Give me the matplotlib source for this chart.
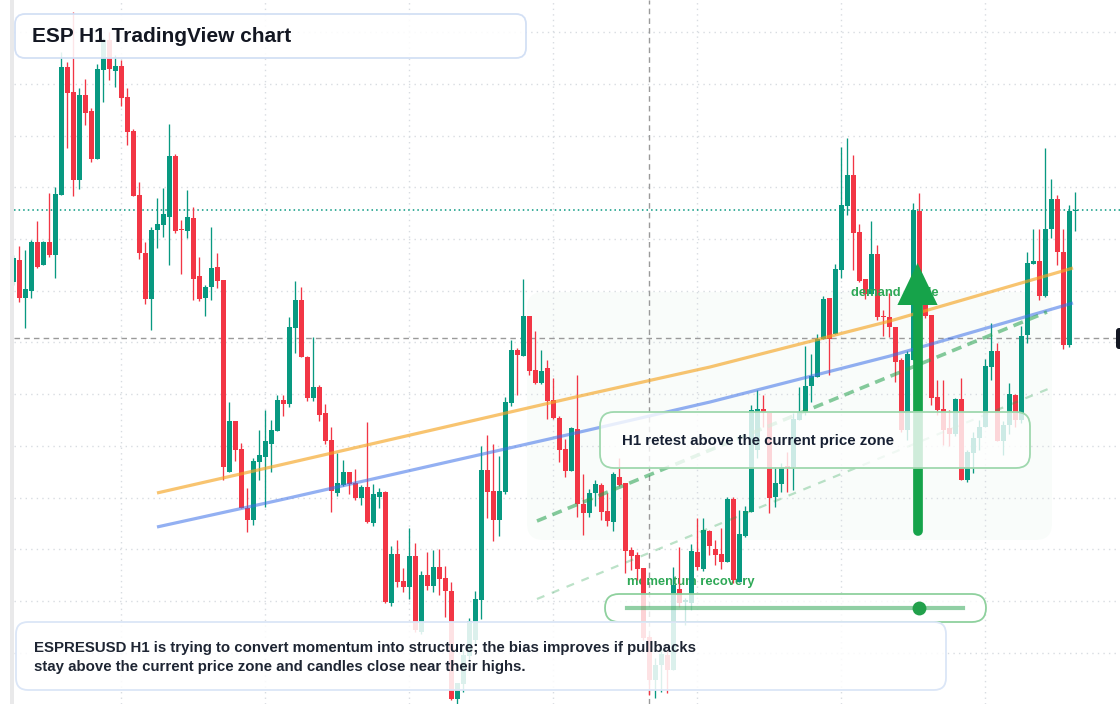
import numpy as np
import matplotlib.pyplot as plt
from matplotlib.patches import FancyBboxPatch, Polygon, Rectangle

plt.rcParams['font.family'] = ['Liberation Sans', 'DejaVu Sans']

# ESP H1 candles, oldest first
opens = [0.618, 0.640, 0.602, 0.609, 0.658, 0.635, 0.658, 0.645, 0.705, 0.833,
         0.808, 0.720, 0.805, 0.789, 0.741, 0.830, 0.860, 0.829, 0.834, 0.803,
         0.769, 0.705, 0.647, 0.601, 0.670, 0.675, 0.683, 0.744, 0.671, 0.669,
         0.682, 0.624, 0.602, 0.613, 0.633, 0.620, 0.428, 0.479, 0.451, 0.392,
         0.380, 0.438, 0.443, 0.456, 0.469, 0.500, 0.496, 0.572, 0.600, 0.543,
         0.502, 0.513, 0.487, 0.460, 0.407, 0.415, 0.428, 0.417, 0.402, 0.413,
         0.377, 0.403, 0.408, 0.297, 0.346, 0.319, 0.313, 0.344, 0.268, 0.325,
         0.314, 0.333, 0.322, 0.309, 0.201, 0.216, 0.244, 0.260, 0.300, 0.430,
         0.409, 0.380, 0.408, 0.497, 0.550, 0.544, 0.584, 0.530, 0.517, 0.532,
         0.500, 0.482, 0.451, 0.429, 0.471, 0.396, 0.387, 0.407, 0.415, 0.389,
         0.378, 0.423, 0.417, 0.350, 0.345, 0.332, 0.263, 0.220, 0.235, 0.245,
         0.230, 0.311, 0.298, 0.297, 0.348, 0.331, 0.369, 0.351, 0.346, 0.338,
         0.401, 0.318, 0.364, 0.388, 0.450, 0.491, 0.487, 0.403, 0.416, 0.434,
         0.433, 0.480, 0.488, 0.514, 0.523, 0.561, 0.602, 0.566, 0.630, 0.694,
         0.725, 0.668, 0.621, 0.606, 0.646, 0.584, 0.583, 0.573, 0.540, 0.470,
         0.540, 0.689, 0.595, 0.585, 0.503, 0.491, 0.472, 0.466, 0.501, 0.420,
         0.447, 0.462, 0.473, 0.533, 0.549, 0.459, 0.475, 0.505, 0.480, 0.565,
         0.636, 0.639, 0.604, 0.671, 0.701, 0.648, 0.555, 0.689]
highs = [0.645, 0.654, 0.650, 0.660, 0.679, 0.659, 0.707, 0.713, 0.848, 0.838,
         0.888, 0.812, 0.821, 0.792, 0.836, 0.862, 0.868, 0.845, 0.840, 0.812,
         0.771, 0.718, 0.658, 0.673, 0.702, 0.712, 0.776, 0.746, 0.680, 0.710,
         0.693, 0.643, 0.615, 0.673, 0.647, 0.620, 0.498, 0.479, 0.457, 0.412,
         0.442, 0.470, 0.490, 0.480, 0.505, 0.505, 0.583, 0.619, 0.613, 0.544,
         0.563, 0.515, 0.496, 0.473, 0.447, 0.440, 0.428, 0.431, 0.415, 0.478,
         0.416, 0.412, 0.409, 0.354, 0.360, 0.332, 0.372, 0.357, 0.329, 0.348,
         0.350, 0.351, 0.334, 0.318, 0.217, 0.250, 0.282, 0.309, 0.454, 0.465,
         0.456, 0.444, 0.503, 0.560, 0.552, 0.621, 0.584, 0.569, 0.550, 0.540,
         0.522, 0.484, 0.461, 0.473, 0.525, 0.426, 0.411, 0.420, 0.417, 0.407,
         0.428, 0.442, 0.417, 0.353, 0.348, 0.332, 0.265, 0.242, 0.252, 0.250,
         0.333, 0.353, 0.302, 0.356, 0.382, 0.382, 0.370, 0.360, 0.372, 0.403,
         0.403, 0.390, 0.394, 0.495, 0.510, 0.505, 0.487, 0.433, 0.437, 0.448,
         0.487, 0.513, 0.554, 0.546, 0.566, 0.604, 0.602, 0.636, 0.753, 0.762,
         0.745, 0.676, 0.621, 0.679, 0.655, 0.590, 0.607, 0.573, 0.542, 0.549,
         0.697, 0.707, 0.600, 0.585, 0.520, 0.520, 0.490, 0.502, 0.522, 0.450,
         0.468, 0.480, 0.541, 0.577, 0.557, 0.479, 0.517, 0.506, 0.574, 0.648,
         0.671, 0.671, 0.752, 0.721, 0.705, 0.671, 0.695, 0.708]
lows = [0.615, 0.598, 0.572, 0.602, 0.632, 0.635, 0.643, 0.622, 0.705, 0.752,
        0.704, 0.711, 0.775, 0.738, 0.741, 0.798, 0.820, 0.813, 0.794, 0.755,
        0.704, 0.641, 0.596, 0.570, 0.652, 0.663, 0.635, 0.667, 0.626, 0.662,
        0.600, 0.599, 0.584, 0.600, 0.612, 0.420, 0.428, 0.439, 0.392, 0.368,
        0.375, 0.420, 0.393, 0.428, 0.469, 0.484, 0.493, 0.547, 0.543, 0.499,
        0.499, 0.479, 0.456, 0.388, 0.404, 0.414, 0.406, 0.400, 0.395, 0.377,
        0.374, 0.392, 0.297, 0.294, 0.313, 0.308, 0.301, 0.268, 0.266, 0.310,
        0.308, 0.305, 0.283, 0.200, 0.196, 0.208, 0.240, 0.255, 0.281, 0.382,
        0.359, 0.364, 0.406, 0.494, 0.505, 0.544, 0.525, 0.516, 0.516, 0.481,
        0.481, 0.438, 0.423, 0.429, 0.383, 0.365, 0.383, 0.394, 0.380, 0.374,
        0.369, 0.414, 0.327, 0.330, 0.320, 0.260, 0.205, 0.202, 0.208, 0.207,
        0.230, 0.293, 0.275, 0.290, 0.330, 0.329, 0.345, 0.335, 0.331, 0.338,
        0.317, 0.318, 0.363, 0.388, 0.442, 0.473, 0.387, 0.393, 0.408, 0.408,
        0.410, 0.480, 0.485, 0.498, 0.523, 0.561, 0.525, 0.566, 0.622, 0.685,
        0.630, 0.618, 0.601, 0.606, 0.580, 0.564, 0.563, 0.518, 0.468, 0.460,
        0.540, 0.583, 0.582, 0.495, 0.485, 0.455, 0.454, 0.464, 0.420, 0.418,
        0.427, 0.450, 0.473, 0.520, 0.459, 0.445, 0.466, 0.473, 0.477, 0.557,
        0.636, 0.600, 0.603, 0.662, 0.635, 0.551, 0.553, 0.669]
closes = [0.642, 0.602, 0.611, 0.658, 0.633, 0.658, 0.645, 0.706, 0.833, 0.807,
          0.720, 0.805, 0.787, 0.741, 0.831, 0.860, 0.831, 0.834, 0.802, 0.768,
          0.704, 0.647, 0.601, 0.670, 0.676, 0.686, 0.744, 0.669, 0.670, 0.683,
          0.621, 0.601, 0.613, 0.632, 0.619, 0.433, 0.479, 0.450, 0.392, 0.380,
          0.439, 0.445, 0.459, 0.470, 0.500, 0.496, 0.573, 0.600, 0.543, 0.502,
          0.513, 0.485, 0.459, 0.409, 0.417, 0.428, 0.416, 0.402, 0.413, 0.378,
          0.406, 0.408, 0.298, 0.346, 0.318, 0.313, 0.344, 0.270, 0.325, 0.314,
          0.333, 0.321, 0.309, 0.201, 0.217, 0.245, 0.279, 0.301, 0.430, 0.408,
          0.380, 0.409, 0.498, 0.550, 0.545, 0.584, 0.529, 0.517, 0.529, 0.499,
          0.482, 0.450, 0.429, 0.472, 0.396, 0.387, 0.407, 0.416, 0.388, 0.379,
          0.426, 0.415, 0.349, 0.344, 0.331, 0.262, 0.220, 0.235, 0.246, 0.230,
          0.315, 0.297, 0.300, 0.349, 0.333, 0.370, 0.354, 0.345, 0.338, 0.401,
          0.320, 0.366, 0.389, 0.490, 0.491, 0.488, 0.402, 0.417, 0.433, 0.432,
          0.481, 0.488, 0.514, 0.524, 0.561, 0.601, 0.561, 0.631, 0.695, 0.725,
          0.667, 0.619, 0.606, 0.646, 0.583, 0.583, 0.573, 0.538, 0.470, 0.546,
          0.690, 0.585, 0.584, 0.502, 0.490, 0.470, 0.466, 0.501, 0.420, 0.448,
          0.462, 0.473, 0.534, 0.549, 0.459, 0.475, 0.506, 0.480, 0.564, 0.637,
          0.639, 0.604, 0.671, 0.701, 0.648, 0.555, 0.689, 0.690]
assert len(opens) == len(highs) == len(lows) == len(closes) == 178

# drawn lines: (bar index, price) anchor points
orange_x = [23.95, 44.45, 94.45, 116.12, 146.12, 176.62]
orange_y = [0.407, 0.435, 0.504, 0.533, 0.579, 0.632]
blue_x = [23.95, 44.45, 94.45, 116.12, 146.12, 176.62]
blue_y = [0.373, 0.400, 0.468, 0.498, 0.544, 0.597]
channel_x = [87.28, 172.28]
channel_top = [0.379, 0.588]
channel_low_x = [87.28, 172.45]
channel_low = [0.301, 0.511]

last_price = 0.690
cross_price = 0.562
cross_bar = 105.95
arrow_bar = 150.7
arrow_from, arrow_to = 0.369, 0.637
momentum_score = 0.87

title = "ESP H1 TradingView chart"
retest_note = "H1 retest above the current price zone"
summary = ("ESPRESUSD H1 is trying to convert momentum into structure; the bias improves if pullbacks\n"
           "stay above the current price zone and candles close near their highs.")

UP = '#089981'
DOWN = '#f23645'
GREEN = '#16a34a'
INK = '#131722'

fig = plt.figure(figsize=(11.2, 7.04), dpi=100)
fig.patch.set_facecolor('white')

# background layer in screen pixels
bg = fig.add_axes([0, 0, 1, 1], zorder=0)
bg.set_xlim(0, 1120)
bg.set_ylim(704, 0)
bg.axis('off')
bg.add_patch(Rectangle((10, 0), 4, 704, color='#e9e9ea', lw=0))
bg.add_patch(FancyBboxPatch((527, 292), 525, 248, boxstyle="round,pad=0,rounding_size=16",
                            fc='#22a04b', alpha=0.025, lw=0))

# price chart, starts right of the left strip
left_px = 14
ax = fig.add_axes([left_px / 1120, 0, 1 - left_px / 1120, 1], zorder=1)
ax.patch.set_alpha(0)
ax.set_xlim((left_px - 13.3) / 6, 184.45)
ax.set_ylim(0.196, 0.900)
for s in ax.spines.values():
    s.set_visible(False)
ax.set_xticks(np.arange(18, 180, 24))
ax.set_yticks(np.arange(0.8677, 0.2, -0.0517))
ax.tick_params(length=0, labelleft=False, labelbottom=False)
ax.set_axisbelow(True)
ax.grid(True, color='#d8dce1', linestyle=(0, (1, 3)), lw=1)

o = np.array(opens)
h = np.array(highs)
l = np.array(lows)
c = np.array(closes)
idx = np.arange(len(o))
cols = np.where(c >= o, UP, DOWN)
ax.vlines(idx, l, h, colors=cols, lw=0.95, zorder=3)
body = np.maximum(np.abs(c - o), 0.0012)
ax.bar(idx, body, bottom=np.minimum(o, c), width=0.76, color=cols, lw=0, zorder=3)

ax.axhline(last_price, color=UP, linestyle=(0, (1, 2)), lw=1.1, zorder=2)
ax.axhline(cross_price, color='#9a9a9a', linestyle=(0, (4, 3)), lw=1, zorder=2)
ax.axvline(cross_bar, color='#9a9a9a', linestyle=(0, (4, 3)), lw=1, zorder=2)

ax.plot(orange_x, orange_y, color='#f5a524', alpha=0.65, lw=2.3, zorder=4, solid_capstyle='butt')
ax.plot(blue_x, blue_y, color='#3b6fe8', alpha=0.55, lw=2.3, zorder=4, solid_capstyle='butt')
ax.plot(channel_x, channel_top, color='#22a04b', alpha=0.55, lw=2.6,
        linestyle=(0, (2.8, 1.8)), zorder=4)
ax.plot(channel_low_x, channel_low, color='#22a04b', alpha=0.3, lw=1.6,
        linestyle=(0, (3.6, 3.6)), zorder=4)

ax.text(102.28, 0.318, "momentum recovery", color='#2ea856', fontsize=9.4,
        fontweight='bold', va='center', ha='left', zorder=2.5)
ax.text(139.6, 0.607, "demand guide", color='#2ea856', fontsize=9.4,
        fontweight='bold', va='center', ha='left', zorder=4.5)

# up arrow
ax.plot([arrow_bar, arrow_bar], [arrow_from, arrow_to - 0.04], color=GREEN, lw=7,
        solid_capstyle='round', zorder=5)
ax.add_patch(Polygon([[arrow_bar - 3.35, arrow_to - 0.042], [arrow_bar + 3.35, arrow_to - 0.042],
                      [arrow_bar, arrow_to]], closed=True, color=GREEN, lw=0, zorder=5))

# overlay boxes and notes in screen pixels
ov = fig.add_axes([0, 0, 1, 1], zorder=2)
ov.patch.set_alpha(0)
ov.set_xlim(0, 1120)
ov.set_ylim(704, 0)
ov.axis('off')


def card(x, y, w, hgt, ec, r, alpha=0.85):
    ov.add_patch(FancyBboxPatch((x, y), w, hgt, boxstyle=f"round,pad=0,rounding_size={r}",
                                fc=(1, 1, 1, alpha), ec=ec, lw=1.3))


card(15, 14, 511, 44, '#d3e0f5', 10, 0.88)
ov.text(32, 36, title, fontsize=15, fontweight='bold', color=INK, va='center')

card(600, 412, 430, 56, '#9fd8ae', 14, 0.8)
ov.text(622, 441, retest_note, fontsize=10.8, fontweight='bold', color='#172033', va='center')

card(605, 594, 381, 28, '#8fd19e', 14, 0.78)
gx0, gx1, gy = 627, 963, 607.5
ov.plot([gx0, gx1], [gy, gy], color='#22a04b', alpha=0.5, lw=3)
ov.plot([gx0 + momentum_score * (gx1 - gx0)], [gy], 'o', color='#22a04b', ms=10, mew=0)

card(16, 622, 930, 68, '#dbe6f7', 12, 0.86)
ov.text(34, 657.5, summary, fontsize=10.8, fontweight='bold', color='#1e2533',
        va='center', linespacing=1.45)

ov.add_patch(FancyBboxPatch((1116, 328), 24, 21, boxstyle="round,pad=0,rounding_size=3",
                            fc=INK, ec='none', clip_on=False))

fig.savefig('out.png', dpi=100)
